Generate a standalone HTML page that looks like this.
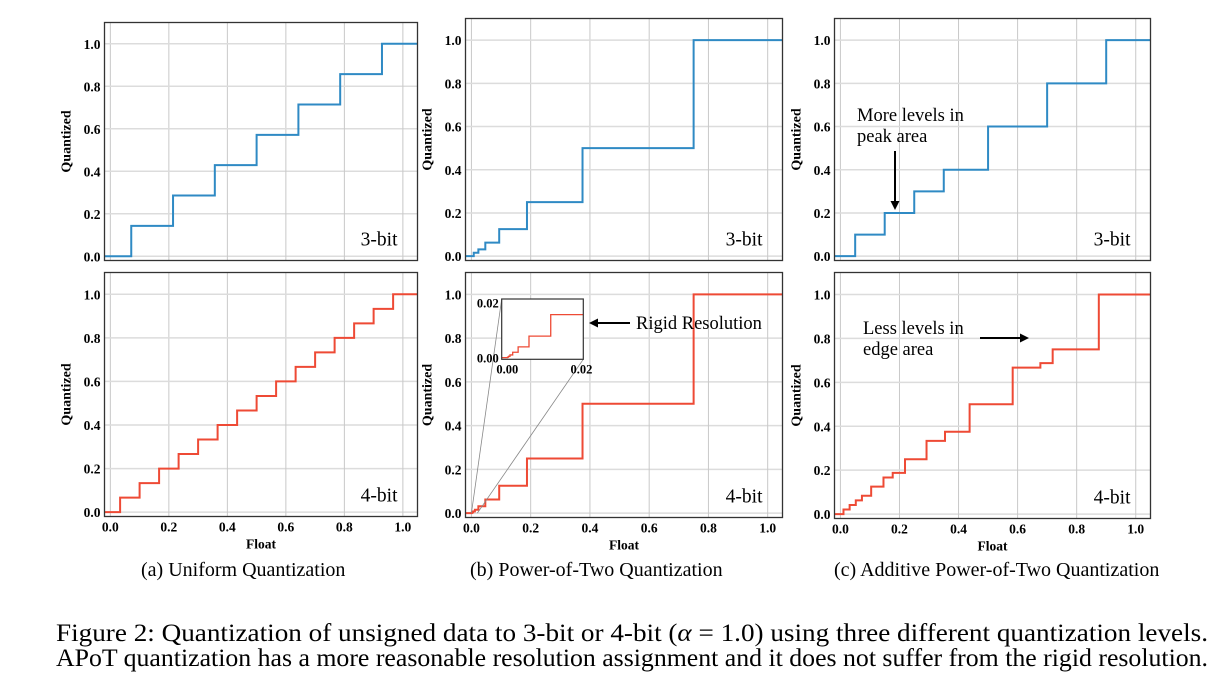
<!DOCTYPE html>
<html><head><meta charset="utf-8">
<style>
html,body{margin:0;padding:0;background:#fff;}
svg{display:block;font-family:"Liberation Serif",serif;}
</style></head>
<body>
<svg id="fig" width="1223" height="684" viewBox="0 0 1223 684" xmlns="http://www.w3.org/2000/svg">
<text x="141" y="576" font-size="20">(a) Uniform Quantization</text>
<text x="470" y="576" font-size="20">(b) Power-of-Two Quantization</text>
<text x="834" y="576" font-size="20">(c) Additive Power-of-Two Quantization</text>
<text x="56" y="641" font-size="25" textLength="1152" lengthAdjust="spacingAndGlyphs">Figure 2: Quantization of unsigned data to 3-bit or 4-bit (<tspan font-style="italic">α</tspan> = 1.0) using three different quantization levels.</text>
<text x="56" y="666" font-size="25" textLength="1152" lengthAdjust="spacingAndGlyphs">APoT quantization has a more reasonable resolution assignment and it does not suffer from the rigid resolution.</text>
</svg>
<script>
// Quantization levels (data)
const uniform3 = [0, 0.1429, 0.2857, 0.4286, 0.5714, 0.7143, 0.8571, 1.0];
const uniform4 = [0, 0.0667, 0.1333, 0.2, 0.2667, 0.3333, 0.4, 0.4667, 0.5333, 0.6, 0.6667, 0.7333, 0.8, 0.8667, 0.9333, 1.0];
const pot3 = [0, 0.015625, 0.03125, 0.0625, 0.125, 0.25, 0.5, 1.0];
const pot4 = [0, 0.000061, 0.000122, 0.000244, 0.000488, 0.000977, 0.001953, 0.003906, 0.0078125, 0.015625, 0.03125, 0.0625, 0.125, 0.25, 0.5, 1.0];
const apot3 = [0, 0.1, 0.2, 0.3, 0.4, 0.6, 0.8, 1.0];
const apot4 = [0, 0.0208, 0.0417, 0.0625, 0.0833, 0.125, 0.1667, 0.1875, 0.25, 0.3333, 0.375, 0.5, 0.6667, 0.6875, 0.75, 1.0];
const tickVals = [0, 0.2, 0.4, 0.6, 0.8, 1.0];
const tickLabels = ["0.0", "0.2", "0.4", "0.6", "0.8", "1.0"];
const insetTickVals = [0, 0.02];
const insetTickLabels = ["0.00", "0.02"];

const NS = "http://www.w3.org/2000/svg";
const svg = document.getElementById("fig");
function mk(tag, attrs, parent, text){
  const e = document.createElementNS(NS, tag);
  for (const k in attrs) e.setAttribute(k, attrs[k]);
  if (text !== undefined) e.textContent = text;
  (parent || svg).appendChild(e);
  return e;
}
const BLUE = "#2f8ac4", RED = "#ee4a35";

function stepPath(levels, sx, sy, x0, x1){
  let cur = levels[0];
  let d = "M" + sx(x0) + "," + sy(cur);
  for (let i = 1; i < levels.length; i++){
    const t = (levels[i-1] + levels[i]) / 2;
    if (t > x1) break;
    d += " L" + sx(t) + "," + sy(cur) + " L" + sx(t) + "," + sy(levels[i]);
    cur = levels[i];
  }
  d += " L" + sx(x1) + "," + sy(cur);
  return d;
}

function panel(cfg){
  const g = mk("g", {});
  
  
  const [L, T, R, B] = cfg.box;
  const xmin = -0.02, xmax = 1.05, ymin = -0.02, ymax = 1.1;
  const sx = v => L + (v - xmin) / (xmax - xmin) * (R - L);
  const sy = v => B - (v - ymin) / (ymax - ymin) * (B - T);
  tickVals.forEach((v, i) => {
    const gx = mk("line", {x1: sx(v), x2: sx(v), y1: T, y2: B, stroke: "#c8c8c8", "stroke-width": 1}, g);
    
    
    const gy = mk("line", {x1: L, x2: R, y1: sy(v), y2: sy(v), stroke: "#dcdcdc", "stroke-width": 1.5}, g);
    
    
    const yl = mk("text", {x: L - 4, y: sy(v) + 5, "font-size": 13.5, "font-weight": "bold", "text-anchor": "end"}, g, tickLabels[i]);
    
    
    if (cfg.xlabels){
      const xl = mk("text", {x: sx(v), y: B + 15, "font-size": 13.5, "font-weight": "bold", "text-anchor": "middle"}, g, tickLabels[i]);
      
      
    }
  });
  const line = mk("path", {d: stepPath(cfg.levels, sx, sy, xmin, xmax), fill: "none", stroke: cfg.color, "stroke-width": 2}, g);
  
  
  const box = mk("rect", {x: L, y: T, width: R - L, height: B - T, fill: "none", stroke: "#333", "stroke-width": 1.3}, g);
  
  
  const yt = mk("text", {x: 0, y: 0, "font-size": 14, "font-weight": "bold", "text-anchor": "middle", transform: "translate(" + (L - 34) + "," + ((T + B) / 2) + ") rotate(-90)"}, g, "Quantized");
  
  
  if (cfg.xlabels){
    const xt = mk("text", {x: (L + R) / 2, y: B + 32, "font-size": 13.5, "font-weight": "bold", "text-anchor": "middle"}, g, "Float");
    
    
  }
  const bl = mk("text", {x: R - 20, y: B - 15, "font-size": 19.5, "text-anchor": "end"}, g, cfg.bits);
  
  
  return {sx, sy, g};
}

panel({name: "uniform-3bit", box: [104.5, 22.5, 417.5, 260.5], levels: uniform3, color: BLUE, bits: "3-bit", xlabels: false});
panel({name: "uniform-4bit", box: [104.5, 272.5, 417.5, 516.5], levels: uniform4, color: RED, bits: "4-bit", xlabels: true});
panel({name: "pot-3bit", box: [465.5, 18.5, 782.5, 260.5], levels: pot3, color: BLUE, bits: "3-bit", xlabels: false});
const pb = panel({name: "pot-4bit", box: [465.5, 272.5, 782.5, 517.5], levels: pot4, color: RED, bits: "4-bit", xlabels: true});
panel({name: "apot-3bit", box: [834.5, 18.5, 1150.5, 260.5], levels: apot3, color: BLUE, bits: "3-bit", xlabels: false});
panel({name: "apot-4bit", box: [834.5, 272.5, 1150.5, 518.5], levels: apot4, color: RED, bits: "4-bit", xlabels: true});

// Inset in PoT 4-bit
(function(){
  const L = 501.7, T = 299, R = 583.3, B = 359.3;
  const xmin = -0.0015, xmax = 0.0205, ymin = -0.0006, ymax = 0.0213;
  const sx = v => L + (v - xmin) / (xmax - xmin) * (R - L);
  const sy = v => B - (v - ymin) / (ymax - ymin) * (B - T);
  const g = mk("g", {});
  
  
  const c1 = mk("line", {x1: pb.sx(0), y1: pb.sy(0), x2: L, y2: T, stroke: "#888", "stroke-width": 0.8}, g);
  
  
  const c2 = mk("line", {x1: pb.sx(0.02), y1: pb.sy(0), x2: R, y2: B, stroke: "#888", "stroke-width": 0.8}, g);
  
  
  const bg = mk("rect", {x: L, y: T, width: R - L, height: B - T, fill: "#fff"}, g);
  
  
  const p = mk("path", {d: stepPath(pot4, sx, sy, xmin, xmax), fill: "none", stroke: RED, "stroke-width": 1.3}, g);
  
  
  const fr = mk("rect", {x: L, y: T, width: R - L, height: B - T, fill: "none", stroke: "#333", "stroke-width": 1.2}, g);
  
  
  insetTickVals.forEach((v, i) => {
    const yl = mk("text", {x: L - 3, y: sy(v) + 5, "font-size": 12.5, "font-weight": "bold", "text-anchor": "end"}, g, insetTickLabels[i]);
    
    
    const xl = mk("text", {x: sx(v), y: B + 14, "font-size": 12.5, "font-weight": "bold", "text-anchor": "middle"}, g, insetTickLabels[i]);
    
    
  });
})();

// Annotations
function arrow(x1, y1, x2, y2, name){
  const dx = x2 - x1, dy = y2 - y1, len = Math.hypot(dx, dy), ux = dx / len, uy = dy / len;
  const hx = x2 - ux * 9, hy = y2 - uy * 9;
  const g = mk("g", {});
  
  
  mk("line", {x1, y1, x2: hx, y2: hy, stroke: "#000", "stroke-width": 2}, g);
  mk("polygon", {points: x2 + "," + y2 + " " + (hx - uy * 4.5) + "," + (hy + ux * 4.5) + " " + (hx + uy * 4.5) + "," + (hy - ux * 4.5), fill: "#000"}, g);
}
arrow(630, 323, 589, 323, "rigid-resolution-arrow");
const t1 = mk("text", {x: 636, y: 329, "font-size": 18.5}, svg, "Rigid Resolution");


arrow(895, 151, 895, 210, "peak-area-arrow");
const t2 = mk("text", {x: 857, y: 121, "font-size": 18.5}, svg, "More levels in");


const t3 = mk("text", {x: 857, y: 142, "font-size": 18.5}, svg, "peak area");


arrow(980, 338, 1029, 338, "edge-area-arrow");
const t4 = mk("text", {x: 863, y: 334, "font-size": 18.5}, svg, "Less levels in");


const t5 = mk("text", {x: 863, y: 355, "font-size": 18.5}, svg, "edge area");


</script>
</body></html>
